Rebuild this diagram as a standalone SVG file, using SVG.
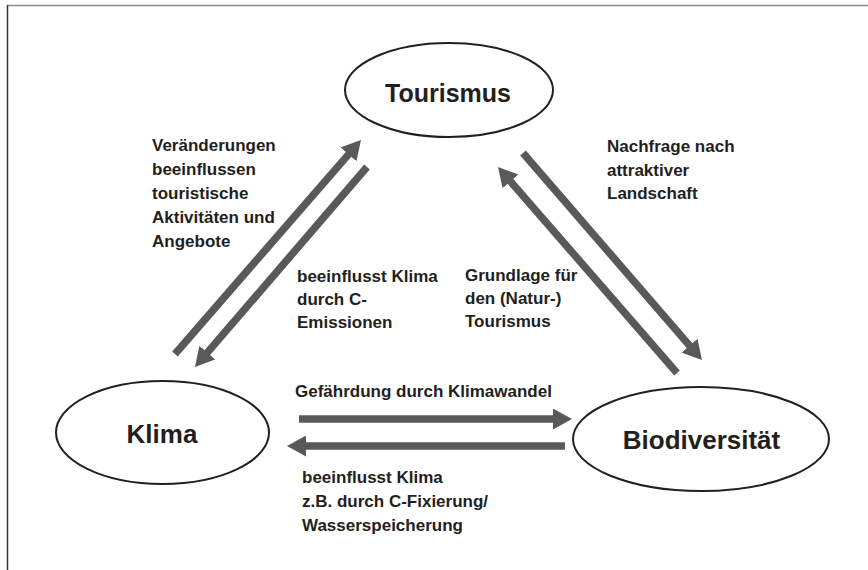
<svg xmlns="http://www.w3.org/2000/svg" width="868" height="570" viewBox="0 0 868 570">
<defs>
<style>
.lbl{font-family:"Liberation Sans",Arial,sans-serif;font-weight:bold;font-size:17px;fill:#231f20}
.node{font-family:"Liberation Sans",Arial,sans-serif;font-weight:bold;font-size:26px;fill:#231f20;text-anchor:middle}
.ell{fill:#fff;stroke:#231f20;stroke-width:2}
.arr{stroke:#595959;stroke-width:7.5;fill:none;marker-end:url(#head)}
</style>
<marker id="head" markerUnits="userSpaceOnUse" markerWidth="19" markerHeight="21" refX="5" refY="10.5" orient="auto">
<path d="M0,0 L19,10.5 L0,21 z" fill="#595959"/>
</marker>
</defs>
<rect width="868" height="570" fill="#fff"/>
<line x1="7" y1="5.5" x2="868" y2="5.5" stroke="#8a8a8a" stroke-width="1.5"/>
<line x1="7.5" y1="5" x2="7.5" y2="570" stroke="#333" stroke-width="1.5"/>

<g id="connectors">
<line class="arr" x1="175" y1="354" x2="351.8" y2="150.6"/>
<line class="arr" x1="367" y1="167" x2="204.1" y2="356.4"/>
<line class="arr" x1="677" y1="373" x2="507.2" y2="177.6"/>
<line class="arr" x1="523" y1="153" x2="692.8" y2="349.4"/>
<line class="arr" x1="299" y1="419" x2="558" y2="419"/>
<line class="arr" x1="565" y1="446" x2="301" y2="446"/>
</g>

<g id="labels">
<text class="lbl"><tspan x="152" y="151">Veränderungen</tspan><tspan x="152" y="175">beeinflussen</tspan><tspan x="152" y="199">touristische</tspan><tspan x="152" y="223">Aktivitäten und</tspan><tspan x="152" y="247">Angebote</tspan></text>
<text class="lbl"><tspan x="607" y="152">Nachfrage nach</tspan><tspan x="607" y="175.5">attraktiver</tspan><tspan x="607" y="199">Landschaft</tspan></text>
<text class="lbl"><tspan x="297" y="282">beeinflusst Klima</tspan><tspan x="297" y="305">durch C-</tspan><tspan x="297" y="328">Emissionen</tspan></text>
<text class="lbl"><tspan x="465" y="281">Grundlage für</tspan><tspan x="465" y="304">den (Natur-)</tspan><tspan x="465" y="327">Tourismus</tspan></text>
<text class="lbl" x="295" y="397">Gefährdung durch Klimawandel</text>
<text class="lbl"><tspan x="302" y="483">beeinflusst Klima</tspan><tspan x="302" y="507">z.B. durch C-Fixierung/</tspan><tspan x="302" y="531">Wasserspeicherung</tspan></text>
</g>

<g id="node-tourismus">
<ellipse class="ell" cx="449" cy="90" rx="104" ry="47"/>
<text class="node" x="448" y="102" style="font-size:25px">Tourismus</text>
</g>
<g id="node-klima">
<ellipse class="ell" cx="162.5" cy="432.5" rx="106.5" ry="51.5"/>
<text class="node" x="162" y="443">Klima</text>
</g>
<g id="node-biodiversitaet">
<ellipse class="ell" cx="701" cy="439" rx="128" ry="52"/>
<text class="node" x="701.5" y="449">Biodiversität</text>
</g>
</svg>
